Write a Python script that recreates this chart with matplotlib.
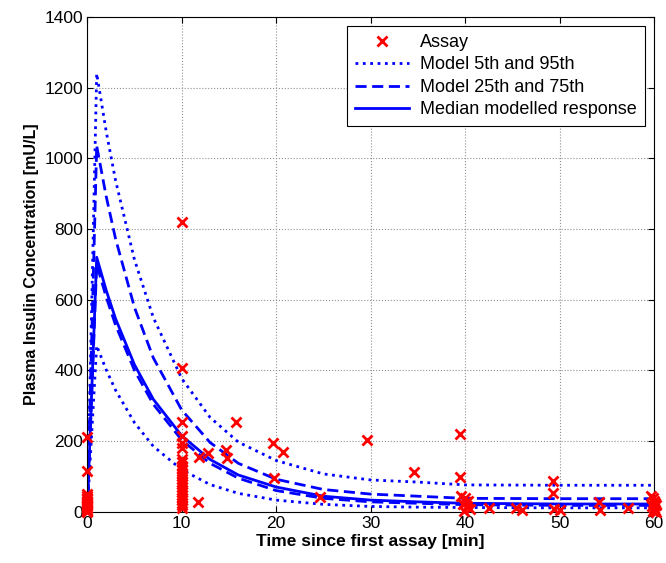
import matplotlib
matplotlib.use('Agg')
import matplotlib.pyplot as plt
import numpy as np

plt.rcParams['font.family'] = ['Liberation Sans', 'DejaVu Sans']

# Model curves (time [min] vs insulin [mU/L])
t_model = [0, 1, 2, 3, 5, 7, 10, 13, 16, 20, 25, 30, 35, 40, 50, 60]
p95 = [0, 1240, 1077, 937, 713, 549, 377, 267, 197, 145, 107, 90, 84, 76, 75, 75]
p75 = [0, 1035, 893, 772, 578, 435, 288, 196, 137, 92, 63, 50, 44, 38, 37, 37]
p50 = [0, 720, 627, 546, 416, 318, 215, 148, 104, 70, 44, 33, 28, 24, 22, 22]
p25 = [0, 700, 608, 528, 400, 304, 203, 137, 95, 60, 38, 28, 24, 20, 18, 18]
p05 = [0, 470, 402, 344, 252, 185, 119, 77, 52, 33, 21, 15, 13, 12, 11, 11]

# Assay measurements
assay_t = ([0] * 14 + [10] * 24 +
           [11.7, 11.8, 12.8, 14.7, 14.8, 15.8, 19.7, 20.7, 19.8, 24.6,
            29.6, 34.6, 39.5, 39.5] +
           [39.6, 40.0, 40.3, 39.8, 40.2, 40.5, 39.9, 40.1] +
           [42.5, 45.4, 46.0, 49.3, 49.3, 49.4, 50.0, 54.2, 54.3, 57.2] +
           [59.7, 59.9, 60.0, 60.1, 60.2, 59.8, 60.0, 60.1, 59.9, 60.2])
assay_y = ([212, 116, 50, 45, 40, 35, 30, 25, 20, 15, 10, 6, 3, 0] +
           [820, 407, 254, 215, 195, 180, 150, 140, 130, 120, 110, 100,
            92, 85, 78, 70, 62, 55, 48, 40, 33, 25, 18, 10] +
           [28, 155, 166, 175, 152, 255, 195, 170, 96, 42,
            203, 113, 220, 99] +
           [45, 38, 30, 22, 15, 8, 3, 28] +
           [10, 10, 5, 88, 53, 8, 4, 28, 5, 10] +
           [45, 38, 30, 25, 20, 15, 10, 5, 2, 0])

fig = plt.figure(figsize=(6.66, 5.63), dpi=100)
ax = fig.add_axes([0.131, 0.091, 0.851, 0.879])

ax.plot(assay_t, assay_y, 'x', color='red', ms=7, mew=2, clip_on=False,
        label='Assay', zorder=5)
ax.plot(t_model, p95, ':', color='blue', lw=2, label='Model 5th and 95th')
ax.plot(t_model, p05, ':', color='blue', lw=2)
ax.plot(t_model, p75, '--', color='blue', lw=2, dashes=(4, 2),
        label='Model 25th and 75th')
ax.plot(t_model, p25, '--', color='blue', lw=2, dashes=(4, 2))
ax.plot(t_model, p50, '-', color='blue', lw=2, label='Median modelled response')

ax.set_xlim(0, 60)
ax.set_ylim(0, 1400)
ax.set_xticks(np.arange(0, 61, 10))
ax.set_yticks(np.arange(0, 1401, 200))
ax.tick_params(direction='in', labelsize=12.5, top=True, right=True,
               length=4, pad=3)
ax.grid(True, color='#909090', linestyle=':', linewidth=0.8)
ax.set_axisbelow(True)
for s in ax.spines.values():
    s.set_linewidth(0.8)

ax.set_xlabel('Time since first assay [min]', fontsize=12.5,
              fontweight='bold', labelpad=2)
ax.set_ylabel('Plasma Insulin Concentration [mU/L]', fontsize=11.5,
              fontweight='bold', labelpad=4)

leg = ax.legend(loc='upper right', fontsize=13, fancybox=False, framealpha=1,
                edgecolor='black', borderaxespad=0.5, handlelength=3.0,
                borderpad=0.45, labelspacing=0.3, handletextpad=0.6)
leg.get_frame().set_linewidth(0.8)

fig.savefig('out.png', dpi=100)
